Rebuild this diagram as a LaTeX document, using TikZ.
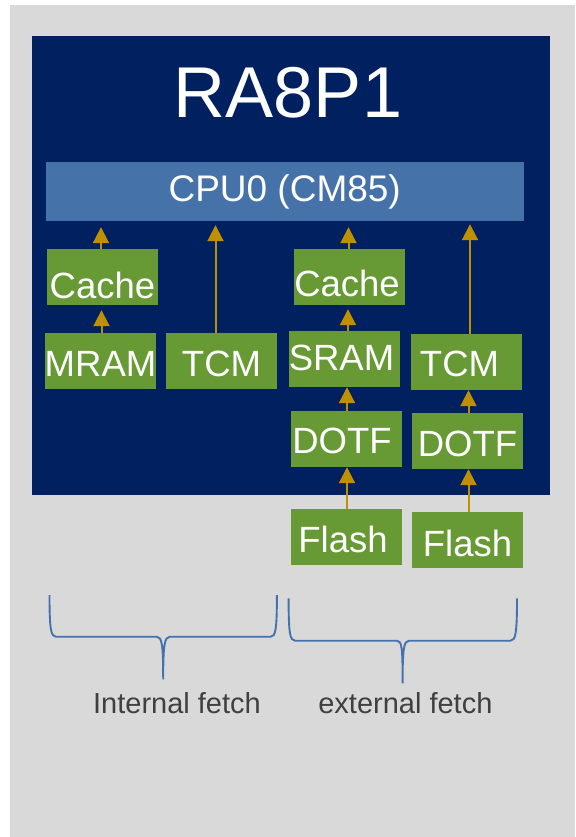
\documentclass[tikz,border=0pt]{standalone}
\usepackage{fontspec}
\setmainfont{Liberation Sans}
\usetikzlibrary{arrows.meta}
\definecolor{bggray}{HTML}{D9D9D9}
\definecolor{chipblue}{HTML}{002060}
\definecolor{cpublue}{HTML}{4672AA}
\definecolor{grn}{HTML}{679A34}
\definecolor{gold}{HTML}{BF9000}
\definecolor{bracecol}{HTML}{4472AF}
\definecolor{labelgray}{HTML}{404040}
\tikzset{
  gbox/.style={fill=grn, text=white, inner sep=0pt, minimum width=111pt, minimum height=56pt,
    font=\fontsize{36.5}{40}\selectfont, text depth=0pt, text height=#1},
  arr/.style={draw=gold, line width=2pt, -{Triangle[length=16pt,width=16pt]}},
  bracepath/.style={draw=bracecol, line width=1.9pt},
  fetchlabel/.style={anchor=base, text=labelgray, inner sep=0pt, font=\fontsize{29}{32}\selectfont}
}
\begin{document}
\begin{tikzpicture}[x=1pt,y=-1pt]
\useasboundingbox (0,0) rectangle (575,837);
\fill[white] (0,0) rectangle (575,837);
\fill[bggray] (10,5) rectangle (575,837);
\fill[chipblue] (32,36) rectangle (550,495);
\node[anchor=base, text=white, inner sep=0pt, font=\fontsize{72}{80}\selectfont] (title) at (288,118) {RA8P1};
\node[fill=cpublue, text=white, inner sep=0pt, minimum width=478pt, minimum height=59pt,
  font=\fontsize{37}{40}\selectfont] (cpu) at (284.7,191.5) {CPU0 (CM85)};
% green boxes
\node[gbox=42.6pt] (cacheL) at (102.5,277) {Cache};
\node[gbox=39.4pt] (cacheR) at (349.5,277) {Cache\hspace*{5pt}};
\node[gbox=30pt] (mram) at (100.5,361) {MRAM};
\node[gbox=31.4pt] (tcmL) at (221.5,361) {TCM};
\node[gbox=22pt] (sram) at (344.5,359) {SRAM\hspace*{6pt}};
\node[gbox=29.4pt] (tcmR) at (466.5,362) {TCM\hspace*{14pt}};
\node[gbox=28pt] (dotfL) at (346.5,439) {DOTF\hspace*{9pt}};
\node[gbox=30pt] (dotfR) at (467.5,441) {DOTF};
\node[gbox=30pt] (flashL) at (346.5,537) {Flash\hspace*{7pt}};
\node[gbox=32pt] (flashR) at (467.5,540) {Flash};
% arrows
\draw[arr] ([xshift=-1.5pt]cacheL.north) -- ([xshift=-1.5pt,yshift=-6pt]cacheL.north |- cpu.south);
\draw[arr] ([xshift=-6pt]tcmL.north) -- ([xshift=-6pt,yshift=-4pt]tcmL.north |- cpu.south);
\draw[arr] ([xshift=-1pt]cacheR.north) -- ([xshift=-1pt,yshift=-6pt]cacheR.north |- cpu.south);
\draw[arr] ([xshift=3.5pt]tcmR.north) -- ([xshift=3.5pt,yshift=-3pt]tcmR.north |- cpu.south);
\draw[arr] ([xshift=1pt]mram.north) -- ([xshift=1pt,yshift=-5pt]mram.north |- cacheL.south);
\draw[arr] ([xshift=3.5pt]sram.north) -- ([xshift=3.5pt,yshift=-4pt]sram.north |- cacheR.south);
\draw[arr] ([xshift=0.5pt]dotfL.north) -- ([xshift=0.5pt]dotfL.north |- sram.south);
\draw[arr] ([xshift=1pt]dotfR.north) -- ([xshift=1pt]dotfR.north |- tcmR.south);
\draw[arr] ([xshift=0.5pt]flashL.north) -- ([xshift=0.5pt]flashL.north |- dotfL.south);
\draw[arr] ([xshift=1pt]flashR.north) -- ([xshift=1pt]flashR.north |- dotfR.south);
% braces
\draw[bracepath] (49.5,595) .. controls (49.5,630) and (51,636.7) .. (56,636.7) -- (156.7,636.7)
  .. controls (162,636.7) and (163.2,645) .. (163.2,679.3)
  .. controls (163.2,645) and (164.5,636.7) .. (169.8,636.7) -- (270.6,636.7)
  .. controls (275.5,636.7) and (276.9,630) .. (276.9,595);
\draw[bracepath] (288.6,598.3) .. controls (288.6,634) and (290,640.7) .. (295.2,640.7) -- (397.1,640.7)
  .. controls (402,640.7) and (402.6,649) .. (402.6,683.3)
  .. controls (402.6,649) and (403.8,640.7) .. (408.9,640.7) -- (510.4,640.7)
  .. controls (515.5,640.7) and (517,634) .. (517,598.3);
\node[fetchlabel] (intl) at (177,713.3) {Internal fetch};
\node[fetchlabel] (extl) at (405.4,713.3) {external fetch};
\end{tikzpicture}
\end{document}
